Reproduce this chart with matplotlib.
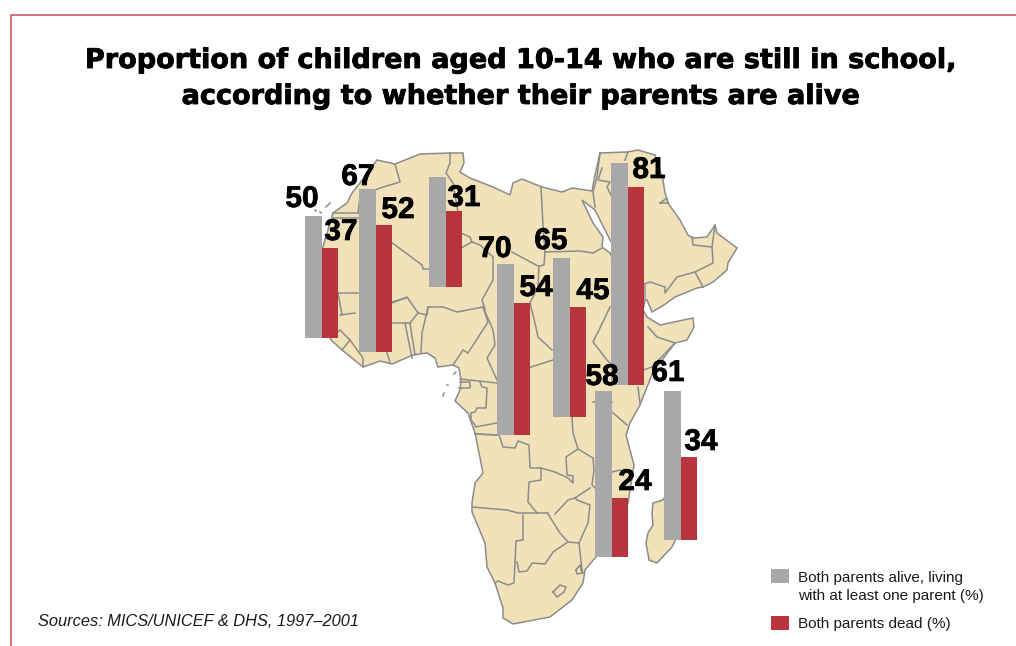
import matplotlib

matplotlib.use('Agg')
import matplotlib.pyplot as plt
import matplotlib.patheffects as pe

# values
alive_values = [50, 67, 45, 70, 65, 91, 68, 61]
dead_values = [37, 52, 31, 54, 45, 81, 24, 34]
# printed labels (two gray bars have none, the 58 bar is drawn taller than its label)
alive_labels = ['50', '67', '', '70', '65', '', '58', '61']
dead_labels = ['37', '52', '31', '54', '45', '81', '24', '34']

title_lines = ['Proportion of children aged 10-14 who are still in school,',
               'according to whether their parents are alive']
source_text = 'Sources: MICS/UNICEF & DHS, 1997\u20132001'
legend_alive = 'Both parents alive, living\nwith at least one parent (%)'
legend_dead = 'Both parents dead (%)'

# where the bars sit on the map, in pixels
bar_left = [305, 359, 429, 497, 553, 611, 595, 664]
bar_base = [338, 352, 287, 435, 417, 385, 557, 540]
alive_label_pos = [(302, 199), (358, 177), None, (495, 249), (551, 241), None, (602, 377), (668, 373)]
dead_label_pos = [(341, 232), (398, 210), (464, 198), (536, 288), (593, 291), (649, 170), (635, 482), (701, 442)]
px_per_unit = 2.44
alive_w = 17
dead_w = 15.5

GRAY = '#a8a8a8'
RED = '#b9353d'
LAND = '#f2e2b9'
EDGE = '#8c8c8c'

# map outline
africa = [(377, 160), (395, 164), (420, 154), (450, 153), (463, 153), (464, 163), (460, 172), (470, 178),
          (493, 187), (510, 195), (513, 183), (522, 179), (542, 187), (562, 192), (572, 188), (592, 191),
          (595, 175), (600, 153), (627, 152), (638, 150), (655, 155), (663, 180), (665, 193), (668, 203),
          (680, 220), (688, 235), (693, 238), (707, 237), (715, 225), (717, 233), (737, 248), (728, 263),
          (727, 270), (713, 282), (703, 287), (697, 288), (675, 297), (664, 305), (652, 312), (647, 300), (645, 300),
          (643, 310), (647, 317), (660, 325), (693, 318), (694, 327), (687, 340), (675, 343), (653, 372),
          (640, 405), (630, 423), (626, 435), (630, 450), (634, 465), (628, 503), (612, 540), (595, 558),
          (585, 570), (583, 583), (572, 600), (550, 617), (513, 624), (503, 618), (503, 608), (495, 583),
          (487, 567), (485, 543), (472, 512), (472, 503), (475, 483), (483, 473), (479, 453), (475, 433),
          (468, 413), (455, 401), (460, 390), (461, 380), (459, 368), (453, 365), (438, 367), (435, 358),
          (427, 353), (413, 355), (392, 364), (380, 361), (363, 367), (342, 350), (331, 340), (322, 320),
          (310, 292), (322, 250), (333, 213), (347, 203), (352, 193), (360, 183)]
madagascar = [(653, 503), (663, 500), (685, 465), (690, 510), (672, 547), (657, 563), (649, 560),
              (646, 543), (648, 533), (653, 525), (652, 513)]
red_sea = [(582, 200), (595, 210), (610, 240), (630, 270), (645, 285), (645, 300), (640, 305), (625, 290),
           (610, 253), (602, 247), (603, 237), (593, 223)]
borders = [
    [(395, 164), (400, 182), (380, 188), (360, 197), (358, 213)],
    [(333, 213), (359, 213)], [(333, 218), (359, 218)],
    [(391, 242), (422, 265), (423, 269), (429, 269)],
    [(450, 153), (450, 163), (446, 173), (453, 183), (458, 212)],
    [(461, 233), (470, 237), (472, 242), (461, 248)],
    [(472, 242), (480, 245), (493, 257), (493, 280), (482, 300), (485, 309)],
    [(392, 303), (407, 297), (418, 313), (427, 315), (428, 307), (443, 307), (457, 312), (483, 307)],
    [(428, 307), (422, 333), (421, 353)],
    [(483, 307), (488, 322), (468, 353), (463, 350), (453, 365)],
    [(483, 307), (493, 330), (495, 345), (487, 358), (497, 380)],
    [(460, 379), (497, 383)],
    [(460, 382), (470, 382), (470, 388), (459, 388)],
    [(480, 382), (482, 387), (487, 388), (486, 408), (477, 408), (475, 412), (471, 413), (471, 420), (475, 425)],
    [(475, 427), (497, 423)], [(476, 434), (497, 435)],
    [(405, 323), (412, 358)], [(410, 323), (415, 355)], [(391, 323), (410, 323), (418, 313)],
    [(392, 302), (406, 298)], [(387, 353), (390, 362)],
    [(338, 293), (358, 293)], [(338, 293), (342, 315)], [(340, 315), (355, 313)],
    [(331, 338), (340, 330), (350, 340), (363, 358), (363, 367)], [(342, 350), (350, 340)],
    [(541, 187), (543, 225), (545, 252)],
    [(512, 252), (538, 266)],
    [(545, 252), (580, 251), (593, 253), (602, 248)],
    [(545, 252), (544, 265), (539, 266), (538, 287), (530, 303), (535, 323), (538, 337), (552, 350)],
    [(528, 368), (553, 360)],
    [(610, 307), (600, 328), (593, 342), (607, 360), (617, 370)],
    [(648, 327), (657, 337), (675, 343), (652, 367), (643, 370)],
    [(600, 153), (597, 177), (593, 192), (595, 207)],
    [(602, 168), (598, 180), (610, 182), (607, 187), (612, 197)],
    [(628, 152), (625, 160)],
    [(712, 247), (693, 245), (692, 237)],
    [(715, 225), (712, 247), (713, 263), (695, 272), (703, 287)],
    [(695, 272), (677, 277), (665, 293), (665, 287), (650, 282), (644, 284)],
    [(660, 203), (668, 203), (667, 198), (660, 203)],
    [(475, 434), (499, 435), (503, 447), (515, 448), (518, 441), (529, 445), (530, 468), (541, 468), (541, 480),
     (529, 482), (528, 502), (537, 513)],
    [(541, 468), (555, 472), (568, 478), (573, 483), (573, 476), (567, 475), (566, 457), (578, 449), (593, 458)],
    [(572, 417), (573, 433), (578, 449)],
    [(612, 412), (627, 425)], [(593, 402), (612, 402)],
    [(640, 403), (638, 387)],
    [(555, 514), (568, 500), (575, 498), (590, 488)],
    [(593, 458), (594, 470), (592, 485), (597, 490)],
    [(612, 472), (620, 470)],
    [(575, 498), (577, 500), (590, 505), (588, 523), (579, 543), (568, 542), (560, 533), (548, 514)],
    [(472, 507), (507, 510), (518, 513), (548, 513)],
    [(523, 515), (523, 540), (516, 541), (514, 583), (508, 585), (498, 581), (495, 583)],
    [(517, 562), (519, 572), (527, 571), (532, 563), (545, 564), (553, 552), (568, 542)],
    [(579, 543), (582, 570), (583, 573)],
    [(576, 570), (580, 565), (582, 573), (577, 574), (576, 570)],
    [(553, 592), (560, 585), (566, 587), (564, 592), (557, 597), (553, 592)],
]
islands = [[(326, 207), (330, 203)], [(315, 210), (316, 211)], [(320, 212), (321, 213)],
           [(454, 374), (456, 372)], [(447, 385), (448, 385)], [(443, 396), (444, 393)]]


def draw_map(ax):
    ax.fill(*zip(*africa), facecolor=LAND, edgecolor=EDGE, linewidth=1.1, zorder=1)
    ax.fill(*zip(*madagascar), facecolor=LAND, edgecolor=EDGE, linewidth=1.1, zorder=1)
    ax.fill(*zip(*red_sea), facecolor='white', edgecolor=EDGE, linewidth=1.1, zorder=1.5)
    for line in borders + islands:
        ax.plot(*zip(*line), color=EDGE, linewidth=1.1, zorder=2)


def draw_bars(ax):
    # y axis is in pixels and points down, so bars get a negative height
    for i in range(len(alive_values)):
        ax.bar(bar_left[i], -alive_values[i] * px_per_unit, width=alive_w, bottom=bar_base[i],
               align='edge', color=GRAY, zorder=3)
        ax.bar(bar_left[i] + alive_w, -dead_values[i] * px_per_unit, width=dead_w, bottom=bar_base[i],
               align='edge', color=RED, zorder=3)
    for labels, positions in ((alive_labels, alive_label_pos), (dead_labels, dead_label_pos)):
        for text, pos in zip(labels, positions):
            if pos is not None:
                ax.text(pos[0], pos[1], text, fontsize=21.5, fontweight='bold', ha='center', va='center',
                        color='black', zorder=4,
                        path_effects=[pe.withStroke(linewidth=0.5, foreground='black')])


def main():
    plt.rcParams['font.family'] = ['Liberation Sans', 'DejaVu Sans']
    fig = plt.figure(figsize=(10.16, 6.46), dpi=100)
    ax = fig.add_axes([0, 0, 1, 1])
    ax.set_xlim(0, 1016)
    ax.set_ylim(646, 0)
    ax.axis('off')

    # red frame, only top and left are visible
    ax.plot([11, 11, 1016], [646, 15, 15], color='#c2565e', linewidth=1.2, zorder=1)

    draw_map(ax)
    draw_bars(ax)

    # title
    for text, y in zip(title_lines, [61, 97]):
        ax.text(521, y, text, fontsize=19.5, fontweight='bold', family='DejaVu Sans', ha='center', va='center',
                color='black', path_effects=[pe.withStroke(linewidth=0.6, foreground='black')], zorder=5)

    ax.text(38, 621, source_text, fontsize=11.8, style='italic', ha='left', va='center', color='#1a1a1a')

    # legend
    ax.bar(771, 14, width=18, bottom=569, align='edge', color=GRAY)
    ax.bar(771, 14, width=18, bottom=616, align='edge', color=RED)
    ax.text(798, 587, legend_alive, fontsize=11, ha='left', va='center', color='#1a1a1a', linespacing=1.4)
    ax.text(798, 624, legend_dead, fontsize=11, ha='left', va='center', color='#1a1a1a')

    fig.savefig('out.png', dpi=100)


if __name__ == '__main__':
    main()
